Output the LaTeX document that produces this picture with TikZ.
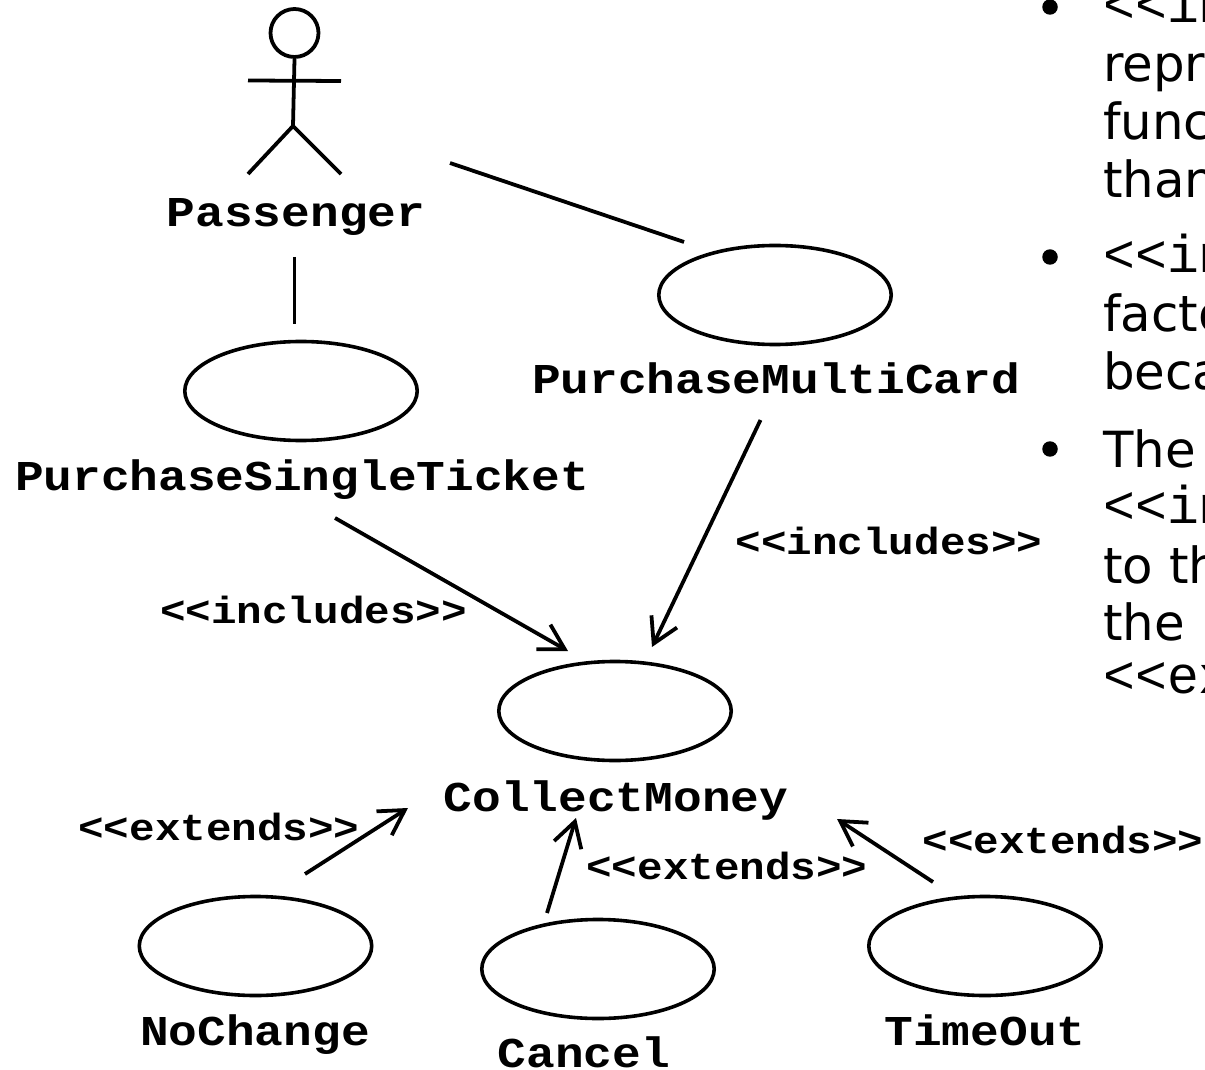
\documentclass[tikz,border=0pt]{standalone}
\usepackage{fontspec}
\setmainfont{DejaVu Sans}
\setmonofont{Liberation Mono}
\newfontfamily\labelfont[FakeStretch=1.125]{Liberation Mono}
\usetikzlibrary{arrows.meta}
\usetikzlibrary{shapes.geometric}
\tikzset{
  usecase/.style={draw, ellipse, line width=0.95mm, minimum width=6.15cm, minimum height=2.62cm, inner sep=0pt},
  ucname/.style={font=\fontsize{32}{32}\labelfont\bfseries, inner sep=0pt, anchor=base},
  stereo/.style={font=\fontsize{28.5}{28.5}\labelfont\bfseries, inner sep=0pt, anchor=base},
  note/.style={font=\fontsize{37.5}{37.5}\selectfont, inner sep=0pt, anchor=base west},
  notemono/.style={font=\fontsize{40}{40}\ttfamily, inner sep=0pt, anchor=base west},
  dotmark/.style={fill, circle, minimum size=4.1mm, inner sep=0pt},
  assoc/.style={line width=1mm},
  rel/.style={line width=1mm, -{Straight Barb[length=6.5mm, width=7.5mm, line width=1mm]}}
}
\begin{document}
\begin{tikzpicture}[x=0.2646mm, y=-0.2646mm]
\useasboundingbox (0,0) rectangle (1205,1070);
% actor
\node[draw, circle, line width=1mm, minimum size=12.7mm, inner sep=0pt] (head) at (294.5,33) {};
\coordinate (hip) at (293,126);
\coordinate (armL) at (248,80.5);
\coordinate (armR) at (341,81);
\coordinate (footL) at (248,174);
\coordinate (footR) at (341,174);
\draw[assoc] (head.south) -- (hip);
\draw[assoc] (armL) -- (armR);
\draw[assoc] (footL) -- (hip) -- (footR);
\node[ucname] (passenger) at (296,227) {Passenger};

% use cases
\node[usecase] (single) at (301,391) {};
\node[usecase] (multi) at (775,295) {};
\node[usecase] (collect) at (615,711) {};
\node[usecase] (nochange) at (255.5,946) {};
\node[usecase] (cancel) at (598,969) {};
\node[usecase] (timeout) at (985,946) {};

\node[ucname] (singlelabel) at (302,490) {PurchaseSingleTicket};
\node[ucname] (multilabel) at (776,394) {PurchaseMultiCard};
\node[ucname] (collectlabel) at (616,811) {CollectMoney};
\node[ucname] (nochangelabel) at (255,1045) {NoChange};
\node[ucname] (cancellabel) at (584,1067) {Cancel};
\node[ucname] (timeoutlabel) at (985,1045) {TimeOut};

% connector ends
\coordinate (a1) at (294.5,257);
\coordinate (a2) at (294.5,324);
\coordinate (b1) at (450,163);
\coordinate (b2) at (684,242);
\coordinate (c1) at (335,518);
\coordinate (c2) at (568,651);
\coordinate (d1) at (760.5,420);
\coordinate (d2) at (652,647);
\coordinate (e1) at (305,874);
\coordinate (e2) at (408,808);
\coordinate (f1) at (547,913);
\coordinate (f2) at (576,818);
\coordinate (g1) at (933,882);
\coordinate (g2) at (837,819);

\draw[assoc] (a1) -- (a2);
\draw[assoc] (b1) -- (b2);
\draw[rel] (c1) -- (c2);
\draw[rel] (d1) -- (d2);
\draw[rel] (e1) -- (e2);
\draw[rel] (f1) -- (f2);
\draw[rel] (g1) -- (g2);

\node[stereo] (inc1) at (313.5,623) {<<includes>>};
\node[stereo] (inc2) at (889,554) {<<includes>>};
\node[stereo] (ext1) at (219,840) {<<extends>>};
\node[stereo] (ext2) at (727,879) {<<extends>>};
\node[stereo] (ext3) at (1063,853) {<<extends>>};

% text on the right
\node[dotmark] (dot1) at (1050,7) {};
\node[notemono] (t1) at (1103,23) {<<in};
\node[note] (t2) at (1103,82) {repr};
\node[note] (t3) at (1103,140) {func};
\node[note] (t4) at (1103,198) {than};
\node[dotmark] (dot2) at (1050,257) {};
\node[notemono] (t5) at (1103,273) {<<in};
\node[note] (t6) at (1103,332) {facto};
\node[note] (t7) at (1103,390) {beca};
\node[dotmark] (dot3) at (1050,449) {};
\node[note] (t8) at (1103,467) {The};
\node[notemono] (t9) at (1103,523) {<<in};
\node[note] (t10) at (1103,583) {to th};
\node[note] (t11) at (1103,640) {the};
\node[notemono] (t12) at (1103,693) {<<ex};
\end{tikzpicture}
\end{document}
